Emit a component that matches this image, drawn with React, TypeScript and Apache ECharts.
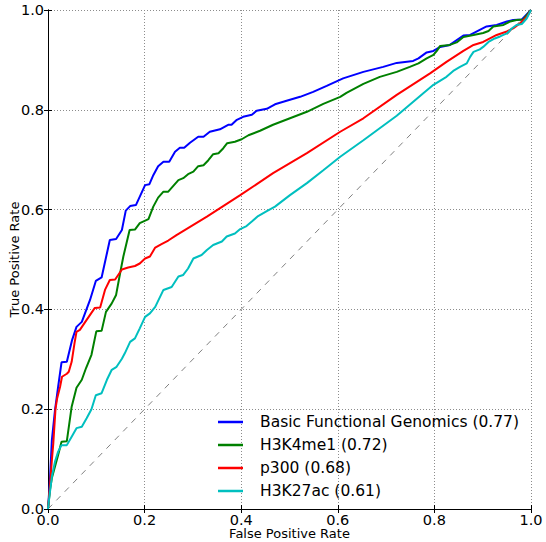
import React, { useEffect, useRef } from "react";
import * as echarts from "echarts";

const seriesNames = [
  "Basic Functional Genomics (0.77)",
  "H3K4me1 (0.72)",
  "p300 (0.68)",
  "H3K27ac (0.61)",
];
const seriesColors = ["#0000ff", "#008000", "#ff0000", "#00bfbf"];
const tickLabels = ["0.0", "0.2", "0.4", "0.6", "0.8", "1.0"];

const basicFG: [number, number][] = [
  [0, 0], [0.004, 0.058], [0.008, 0.138], [0.0145, 0.198], [0.021, 0.245], [0.028, 0.294],
  [0.039, 0.295], [0.05, 0.339], [0.059, 0.365], [0.07, 0.375], [0.087, 0.419], [0.099, 0.457],
  [0.111, 0.464], [0.128, 0.539], [0.141, 0.541], [0.153, 0.559], [0.161, 0.598], [0.17, 0.607],
  [0.182, 0.609], [0.201, 0.649], [0.21, 0.651], [0.218, 0.669], [0.228, 0.687], [0.239, 0.696],
  [0.251, 0.696], [0.263, 0.716], [0.273, 0.724], [0.282, 0.724], [0.294, 0.734], [0.311, 0.746],
  [0.322, 0.746], [0.335, 0.756], [0.356, 0.761], [0.373, 0.77], [0.38, 0.77], [0.391, 0.78],
  [0.404, 0.786], [0.422, 0.79], [0.432, 0.798], [0.453, 0.802], [0.47, 0.811], [0.494, 0.818],
  [0.522, 0.826], [0.549, 0.836], [0.577, 0.848], [0.611, 0.863], [0.653, 0.876], [0.694, 0.886],
  [0.722, 0.894], [0.756, 0.898], [0.767, 0.903], [0.784, 0.915], [0.798, 0.918], [0.812, 0.926],
  [0.832, 0.93], [0.86, 0.949], [0.874, 0.95], [0.888, 0.957], [0.908, 0.967], [0.929, 0.97],
  [0.95, 0.977], [0.963, 0.98], [0.981, 0.981], [1, 1],
];

const h3k4me1: [number, number][] = [
  [0, 0], [0.004, 0.038], [0.008, 0.062], [0.0145, 0.085], [0.021, 0.108], [0.028, 0.135],
  [0.039, 0.136], [0.049, 0.205], [0.059, 0.243], [0.07, 0.259], [0.079, 0.283], [0.09, 0.309],
  [0.1, 0.356], [0.111, 0.357], [0.12, 0.395], [0.132, 0.412], [0.141, 0.429], [0.149, 0.471],
  [0.156, 0.506], [0.169, 0.559], [0.18, 0.56], [0.19, 0.573], [0.208, 0.581], [0.218, 0.606],
  [0.228, 0.624], [0.239, 0.636], [0.249, 0.636], [0.259, 0.647], [0.27, 0.659], [0.28, 0.663],
  [0.29, 0.671], [0.301, 0.676], [0.311, 0.687], [0.322, 0.689], [0.332, 0.699], [0.342, 0.711],
  [0.353, 0.713], [0.363, 0.723], [0.371, 0.733], [0.387, 0.736], [0.401, 0.741], [0.415, 0.749],
  [0.439, 0.758], [0.466, 0.77], [0.501, 0.783], [0.536, 0.796], [0.57, 0.812], [0.605, 0.826],
  [0.618, 0.834], [0.653, 0.852], [0.687, 0.866], [0.722, 0.876], [0.749, 0.886], [0.767, 0.893],
  [0.784, 0.903], [0.798, 0.91], [0.805, 0.918], [0.812, 0.928], [0.832, 0.93], [0.846, 0.935],
  [0.86, 0.946], [0.881, 0.95], [0.901, 0.954], [0.912, 0.958], [0.922, 0.967], [0.943, 0.97],
  [0.957, 0.977], [0.97, 0.98], [0.984, 0.981], [1, 1],
];

const p300: [number, number][] = [
  [0, 0], [0.004, 0.045], [0.008, 0.098], [0.011, 0.132], [0.0155, 0.2], [0.019, 0.222],
  [0.025, 0.245], [0.029, 0.265], [0.039, 0.271], [0.043, 0.275], [0.049, 0.295], [0.055, 0.333],
  [0.059, 0.355], [0.066, 0.359], [0.08, 0.379], [0.097, 0.403], [0.108, 0.404], [0.118, 0.439],
  [0.128, 0.459], [0.139, 0.46], [0.153, 0.48], [0.166, 0.484], [0.18, 0.487], [0.19, 0.492],
  [0.201, 0.502], [0.211, 0.506], [0.222, 0.524], [0.235, 0.531], [0.249, 0.538], [0.266, 0.549],
  [0.329, 0.586], [0.398, 0.629], [0.466, 0.673], [0.536, 0.713], [0.605, 0.756], [0.653, 0.783],
  [0.722, 0.83], [0.791, 0.873], [0.825, 0.896], [0.86, 0.918], [0.881, 0.93], [0.901, 0.936],
  [0.915, 0.943], [0.929, 0.95], [0.95, 0.957], [0.963, 0.963], [0.977, 0.973], [0.991, 0.986],
  [1, 1],
];

const h3k27ac: [number, number][] = [
  [0, 0], [0.002, 0.018], [0.008, 0.065], [0.0145, 0.095], [0.021, 0.115], [0.028, 0.128],
  [0.039, 0.128], [0.049, 0.145], [0.059, 0.162], [0.07, 0.165], [0.08, 0.182], [0.09, 0.2],
  [0.099, 0.228], [0.111, 0.232], [0.122, 0.259], [0.132, 0.279], [0.142, 0.285], [0.153, 0.301],
  [0.159, 0.312], [0.17, 0.335], [0.18, 0.342], [0.19, 0.362], [0.201, 0.385], [0.211, 0.392],
  [0.222, 0.405], [0.239, 0.439], [0.256, 0.445], [0.27, 0.466], [0.28, 0.469], [0.29, 0.482],
  [0.301, 0.502], [0.318, 0.509], [0.329, 0.519], [0.342, 0.529], [0.36, 0.536], [0.37, 0.546],
  [0.387, 0.552], [0.398, 0.561], [0.411, 0.567], [0.422, 0.576], [0.435, 0.587], [0.453, 0.597],
  [0.47, 0.606], [0.501, 0.629], [0.536, 0.653], [0.57, 0.679], [0.605, 0.706], [0.653, 0.739],
  [0.722, 0.788], [0.777, 0.833], [0.798, 0.85], [0.825, 0.866], [0.839, 0.878], [0.853, 0.886],
  [0.867, 0.893], [0.874, 0.906], [0.881, 0.916], [0.894, 0.921], [0.901, 0.926], [0.912, 0.936],
  [0.925, 0.943], [0.936, 0.947], [0.95, 0.953], [0.96, 0.963], [0.97, 0.97], [0.981, 0.972],
  [0.991, 0.983], [1, 1],
];

const diagonal: [number, number][] = [[0, 0], [1, 1]];

const FONT = "DejaVu Sans";

export default function App() {
  const ref = useRef<HTMLDivElement>(null);
  useEffect(() => {
    document.body.style.margin = "0";
    if (!ref.current) return;
    const chart = echarts.init(ref.current, undefined, { renderer: "svg" });
    const fmt = (v: number) => tickLabels[Math.round(v / 0.2)] ?? v.toFixed(1);
    const axisCommon = {
      type: "value" as const,
      min: 0,
      max: 1,
      interval: 0.2,
      axisLine: { show: true, lineStyle: { color: "#000", width: 1 } },
      axisTick: { show: true, inside: true, length: 4, lineStyle: { color: "#000", width: 1 } },
    };
    const curves = [basicFG, h3k4me1, p300, h3k27ac];
    chart.setOption({
      animation: false,
      backgroundColor: "#fff",
      textStyle: { fontFamily: FONT },
      grid: {
        left: 48,
        top: 10,
        width: 483,
        height: 499,
        containLabel: false,
        outerBoundsMode: "none",
      },
      legend: {
        data: seriesNames,
        orient: "vertical",
        left: 218,
        top: 413,
        padding: 0,
        icon: "rect",
        itemWidth: 25,
        itemHeight: 2.5,
        itemGap: 5,
        textStyle: {
          fontFamily: FONT,
          fontSize: 15.5,
          color: "#000",
          lineHeight: 18,
          padding: [0, 0, 0, 12],
        },
      },
      xAxis: [
        {
          ...axisCommon,
          position: "bottom",
          name: "False Positive Rate",
          nameLocation: "middle",
          nameGap: 18,
          nameMoveOverlap: false,
          nameTextStyle: { fontFamily: FONT, fontSize: 13, color: "#000" },
          axisLabel: { fontFamily: FONT, fontSize: 14.5, color: "#000", margin: 3, formatter: fmt },
          splitLine: { show: true, lineStyle: { color: "#8c8c8c", width: 1, type: [1, 2] } },
        },
        {
          ...axisCommon,
          position: "top",
          axisLabel: { show: false },
          splitLine: { show: false },
        },
      ],
      yAxis: [
        {
          ...axisCommon,
          position: "left",
          name: "True Positive Rate",
          nameLocation: "middle",
          nameGap: 27,
          nameMoveOverlap: false,
          nameTextStyle: { fontFamily: FONT, fontSize: 13, color: "#000" },
          axisLabel: { fontFamily: FONT, fontSize: 14.5, color: "#000", margin: 4, formatter: fmt },
          splitLine: { show: true, lineStyle: { color: "#8c8c8c", width: 1, type: [1, 2] } },
        },
        {
          ...axisCommon,
          position: "right",
          axisLabel: { show: false },
          splitLine: { show: false },
        },
      ],
      series: [
        {
          type: "line",
          name: "diagonal",
          data: diagonal,
          symbol: "none",
          silent: true,
          lineStyle: { color: "#808080", width: 1, type: [6, 6] },
          z: 1,
        },
        ...curves.map((d, i) => ({
          type: "line",
          name: seriesNames[i],
          data: d,
          symbol: "none",
          showSymbol: false,
          color: seriesColors[i],
          lineStyle: { color: seriesColors[i], width: 2 },
          itemStyle: { color: seriesColors[i] },
          z: 2 + i,
        })),
      ],
    });
    return () => chart.dispose();
  }, []);
  return <div ref={ref} style={{ width: 546, height: 542 }} />;
}
